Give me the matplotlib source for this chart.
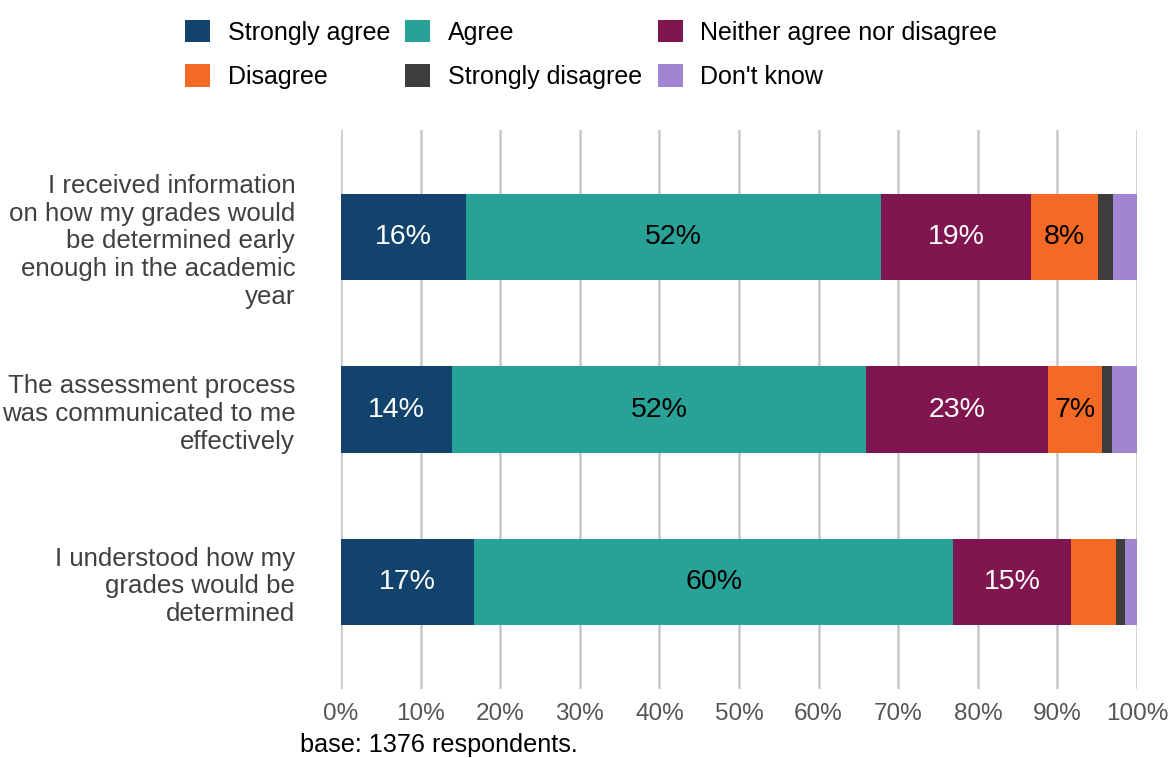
import numpy as np
import matplotlib
matplotlib.use('Agg')
import matplotlib.pyplot as plt
from matplotlib.patches import Patch

plt.rcParams['font.family'] = ['Liberation Sans', 'DejaVu Sans']

questions = [
    "I received information\non how my grades would\nbe determined early\nenough in the academic\nyear",
    "The assessment process\nwas communicated to me\neffectively",
    "I understood how my\ngrades would be\ndetermined",
]
responses = ["Strongly agree", "Agree", "Neither agree nor disagree",
             "Disagree", "Strongly disagree", "Don't know"]
strongly_agree = [15.7, 13.9, 16.7]
agree = [52.1, 52.1, 60.2]
neither = [18.9, 22.8, 14.8]
disagree = [8.4, 6.8, 5.7]
strongly_disagree = [1.9, 1.2, 1.1]
dont_know = [3.0, 3.2, 1.5]

colours = ["#12436D", "#28A197", "#801650", "#F46A25", "#3D3D3D", "#A285D1"]
text_colours = ["white", "black", "white", "black", "white", "black"]

series = [strongly_agree, agree, neither, disagree, strongly_disagree, dont_know]

fig = plt.figure(figsize=(11.71, 7.58), dpi=100)
ax = fig.add_axes([0.2912, 0.091, 0.6798, 0.7375])

y = np.arange(len(questions))
left = np.zeros(len(questions))
handles = []
for vals, col, tcol, name in zip(series, colours, text_colours, responses):
    vals = np.array(vals)
    ax.barh(y, vals, left=left, height=0.5, color=col, zorder=3)
    for yi, l, v in zip(y, left, vals):
        if v >= 6.5:
            ax.text(l + v / 2, yi, f"{round(v):.0f}%", ha='center', va='center',
                    color=tcol, fontsize=20.5, zorder=4)
    left += vals
    handles.append(Patch(facecolor=col, label=name))

ax.set_xlim(0, 100)
ax.set_ylim(2.62, -0.62)
ax.set_xticks(np.arange(0, 101, 10))
ax.set_xticklabels([f"{t}%" for t in range(0, 101, 10)])
ax.set_yticks(y)
ax.set_yticklabels(questions, linespacing=1.2)
ax.grid(axis='x', color='#c8c8c8', linewidth=1.8, zorder=0)
ax.tick_params(axis='x', length=0, pad=10, labelsize=17.5, labelcolor='#555555')
ax.tick_params(axis='y', length=0, pad=33, labelsize=18.6, labelcolor='#404040')
for s in ax.spines.values():
    s.set_visible(False)

# legend fills row-wise: reorder for matplotlib's column-wise layout
order = [0, 3, 1, 4, 2, 5]
fig.legend([handles[i] for i in order], [responses[i] for i in order],
           ncol=3, loc='upper left', bbox_to_anchor=(185 / 1171, 1 - 20 / 758),
           frameon=False, fontsize=18, handlelength=1.0, handleheight=1.0,
           handletextpad=0.72, columnspacing=0.6, labelspacing=0.78,
           borderpad=0, borderaxespad=0)

fig.text(300 / 1171, 1 - 745 / 758, "base: 1376 respondents.", fontsize=18.2,
         ha='left', va='center', color='black')

fig.savefig('out.png', dpi=100)
